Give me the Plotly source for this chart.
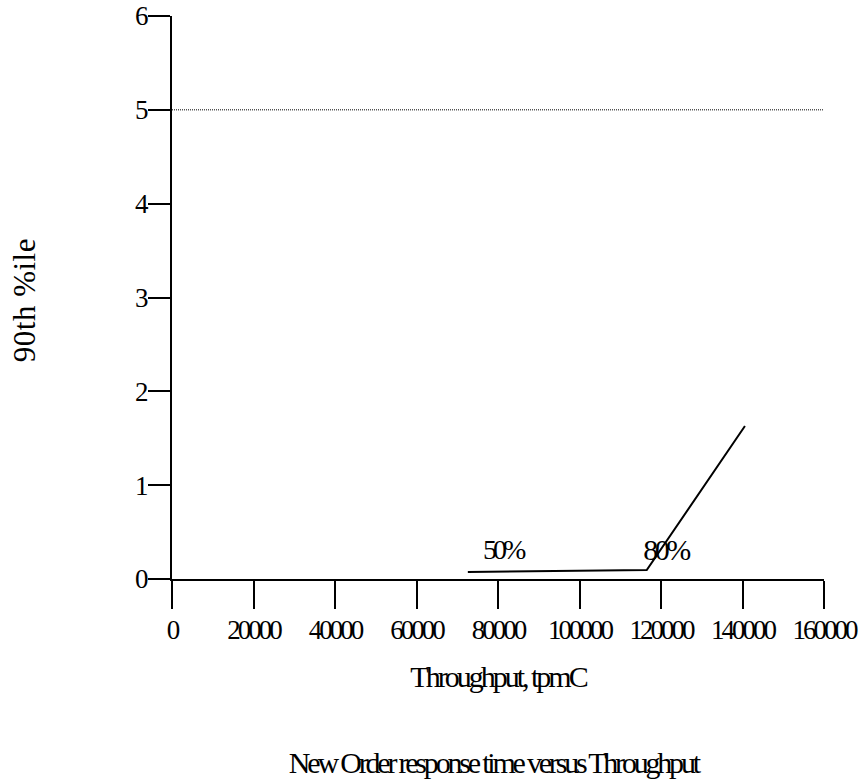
import plotly.graph_objects as go

# Data
tpmc = [72600, 116500, 140600]
resp_90th = [0.075, 0.095, 1.63]
limit_y = [5, 5]
limit_x = [0, 160000]
pct_labels = ["50%", "80%"]
pct_x = [81200, 121000]
pct_y = [0.31, 0.31]
pct_sizes = [28, 30]

x_ticks = [0, 20000, 40000, 60000, 80000, 100000, 120000, 140000, 160000]
y_ticks = [0, 1, 2, 3, 4, 5, 6]

FONT = "Liberation Serif"

fig = go.Figure()
fig.add_trace(go.Scatter(x=limit_x, y=limit_y, mode="lines",
                         line=dict(color="black", width=1, dash="1px,1px"),
                         hoverinfo="skip", showlegend=False))
fig.add_trace(go.Scatter(x=tpmc, y=resp_90th, mode="lines",
                         line=dict(color="black", width=2),
                         showlegend=False))

for t, x, y, s in zip(pct_labels, pct_x, pct_y, pct_sizes):
    fig.add_annotation(x=x, y=y, text=t, showarrow=False, xref="x", yref="y",
                       font=dict(family=FONT, size=s, color="black"))

fig.add_annotation(text="90th %ile", xref="paper", yref="paper",
                   x=-0.2255, y=0.4956, xanchor="center", yanchor="middle",
                   textangle=-90, showarrow=False,
                   font=dict(family=FONT, size=31, color="black"))

fig.update_layout(
    width=864, height=784,
    margin=dict(l=172, r=40, t=16, b=205),
    paper_bgcolor="white", plot_bgcolor="white",
    font=dict(family=FONT, color="black", size=27),
    title=dict(text="New Order response time versus Throughput",
               x=0.571, xanchor="center", y=0.028, yanchor="middle",
               font=dict(family=FONT, size=30, color="black")),
    xaxis=dict(range=[0, 160000], tickvals=x_ticks,
               ticktext=[str(v) for v in x_ticks], tickangle=0,
               ticklabeloverflow="allow", ticklabelstandoff=-2,
               showgrid=False, zeroline=False, showline=True,
               linecolor="black", linewidth=2, automargin=False,
               ticks="outside", ticklen=28, tickwidth=2, tickcolor="black",
               tickfont=dict(family=FONT, size=27),
               title=dict(text="Throughput, tpmC", standoff=22,
                          font=dict(family=FONT, size=30))),
    yaxis=dict(range=[0, 6], tickvals=y_ticks, ticklabeloverflow="allow",
               ticklabelstandoff=-4,
               showgrid=False, zeroline=False, showline=True,
               linecolor="black", linewidth=2, automargin=False,
               ticks="outside", ticklen=22, tickwidth=2, tickcolor="black",
               tickfont=dict(family=FONT, size=27)),
)

post = """
var s=document.createElement('style');
s.textContent='.xtick text {letter-spacing:-3px;} .ytick text {letter-spacing:-2px;} '
 + '.xtitle {letter-spacing:-3px;} .gtitle {letter-spacing:-3.2px;} '
 + '.annotation[data-index="0"] .annotation-text {letter-spacing:-4px;} '
 + '.annotation[data-index="1"] .annotation-text {letter-spacing:-3.5px;} '
 + '.annotation[data-index="2"] .annotation-text {letter-spacing:0.5px;}';
document.head.appendChild(s);
"""
fig.write_html("out.html", post_script=post)
